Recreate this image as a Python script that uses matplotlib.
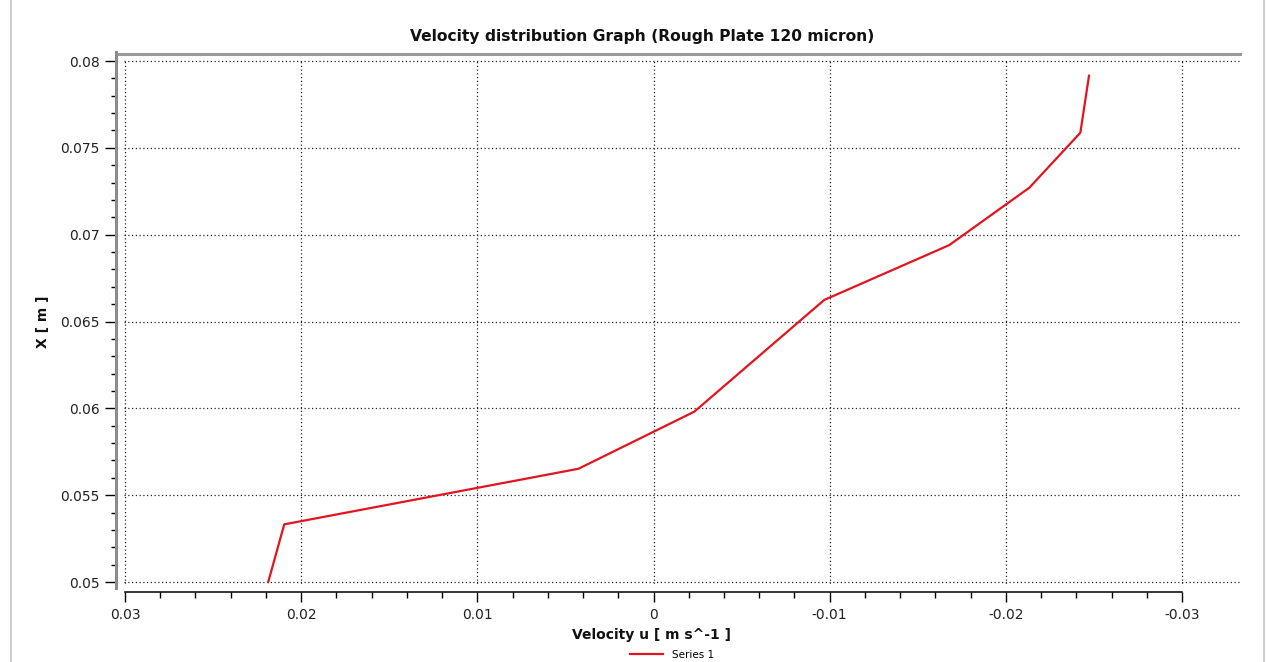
import matplotlib
matplotlib.use("Agg")
import matplotlib.pyplot as plt
from matplotlib.ticker import FixedLocator
from matplotlib.lines import Line2D
import numpy as np

# velocity u [m/s] vs position X [m]
velocity = [0.02187, 0.02096, 0.00426, -0.00232, -0.00969, -0.01679, -0.02133, -0.02423, -0.02472]
position = [0.0500, 0.05332, 0.05652, 0.05981, 0.06624, 0.06940, 0.07270, 0.07587, 0.07915]
xticks = [0.03, 0.02, 0.01, 0.0, -0.01, -0.02, -0.03]
xtick_labels = ["0.03", "0.02", "0.01", "0", "-0.01", "-0.02", "-0.03"]
yticks = [0.05, 0.055, 0.06, 0.065, 0.07, 0.075, 0.08]
ytick_labels = ["0.05", "0.055", "0.06", "0.065", "0.07", "0.075", "0.08"]

W, H = 1266, 662
PT = 0.72  # points per pixel at dpi 100
fig = plt.figure(figsize=(W / 100, H / 100), dpi=100)
ax = fig.add_axes([124 / W, (H - 584) / H, 1116 / W, 525 / H])

ax.plot(velocity, position, color="#e0151f", lw=1.6, label="Series 1", zorder=3)

px_per_x = 1057 / 0.06
px_per_y = 521 / 0.03
ax.set_xlim(0.03 + 1 / px_per_x, 0.03 - 1115 / px_per_x)
ax.set_ylim(0.05 - 2 / px_per_y, 0.08 + 2 / px_per_y)

ax.xaxis.set_major_locator(FixedLocator(xticks))
ax.set_xticklabels(xtick_labels)
ax.xaxis.set_minor_locator(FixedLocator(np.round(np.arange(-0.03, 0.0301, 0.002), 4)))
ax.yaxis.set_major_locator(FixedLocator(yticks))
ax.set_yticklabels(ytick_labels)
ax.yaxis.set_minor_locator(FixedLocator(np.round(np.arange(0.05, 0.0801, 0.001), 4)))

ax.grid(True, which="major", color="#222222", linestyle=(0, (1, 2)), lw=0.9)

ax.spines["right"].set_visible(False)
ax.spines["left"].set_position(("outward", 8 * PT))
ax.spines["left"].set_color("#8c8c8c")
ax.spines["left"].set_linewidth(2.2)
ax.spines["left"].set_bounds(0.04965, 0.0805)
ax.spines["bottom"].set_position(("outward", 8 * PT))
ax.spines["bottom"].set_linewidth(1.1)
ax.spines["bottom"].set_bounds(-0.03, 0.03)
ax.spines["top"].set_position(("outward", 5.5 * PT))
ax.spines["top"].set_color("#9a9a9a")
ax.spines["top"].set_linewidth(2.2)
ax.spines["top"].set_bounds(ax.get_xlim()[1], 0.03 + 6 / px_per_x)

ax.tick_params(axis="x", which="major", direction="out", length=10 * PT, width=1.0, pad=4,
               labelsize=10, labelcolor="#222222")
ax.tick_params(axis="x", which="minor", direction="out", length=6 * PT, width=1.0)
ax.tick_params(axis="y", which="major", direction="out", length=11 * PT, width=1.0, pad=4,
               labelsize=10, labelcolor="#222222")
ax.tick_params(axis="y", which="minor", direction="out", length=5 * PT, width=1.0)

fig.text(642 / W, 1 - 36 / H, "Velocity distribution Graph (Rough Plate 120 micron)",
         ha="center", va="center", fontsize=11.2, fontweight="bold", color="#111111")
fig.text(651 / W, 1 - 635 / H, "Velocity u [ m s^-1 ]", ha="center", va="center",
         fontsize=10, fontweight="bold", color="#111111")
fig.text(43 / W, 1 - 322 / H, "X [ m ]", ha="center", va="center", rotation=90,
         fontsize=10, fontweight="bold", color="#111111")

fig.legend(loc="center", bbox_to_anchor=(672 / W, 7 / H), frameon=False, fontsize=7.5,
           handlelength=3.2, handletextpad=0.8, borderpad=0)

# outer window frame
for xp in (11, 1264):
    fig.add_artist(Line2D([xp / W, xp / W], [0, 1], color="#c4c4c4", lw=1.2,
                          transform=fig.transFigure))

fig.savefig("out.png", dpi=100)
